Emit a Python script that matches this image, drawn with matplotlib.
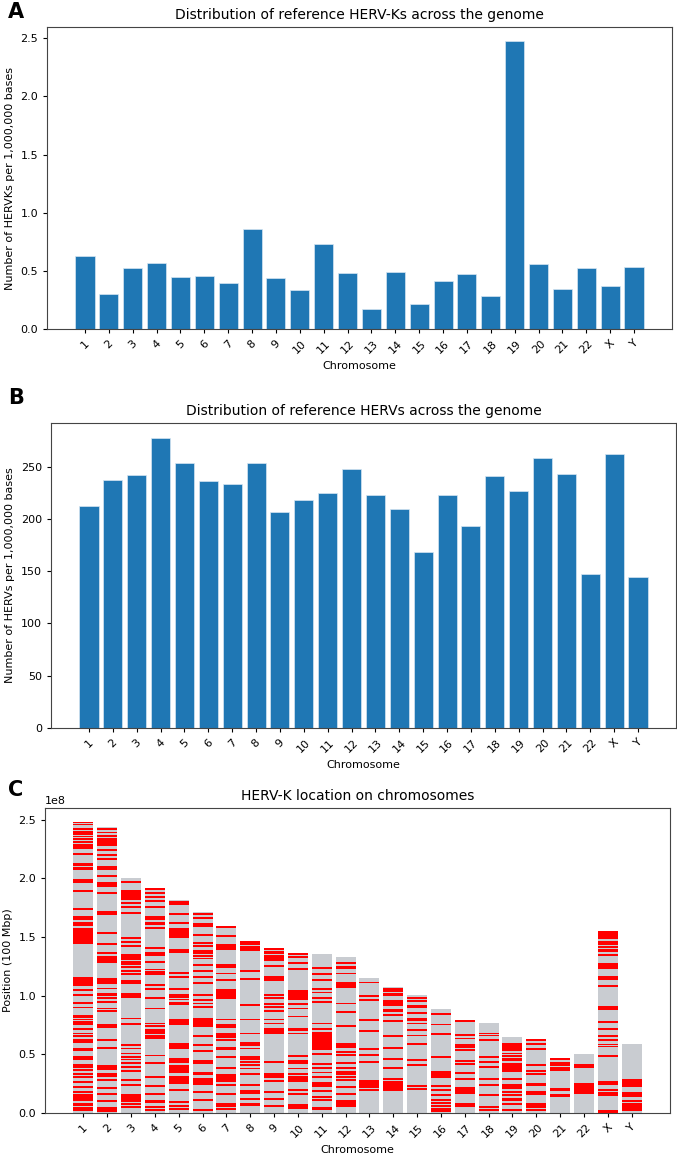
import numpy as np
import matplotlib
matplotlib.use("Agg")
import matplotlib.pyplot as plt

chromosomes = [str(i) for i in range(1, 23)] + ["X", "Y"]

# HERV-K per 1,000,000 bases (panel A)
hervk_density = [0.629, 0.303, 0.529, 0.566, 0.446, 0.454, 0.397, 0.863, 0.437, 0.334,
                 0.729, 0.483, 0.169, 0.489, 0.214, 0.417, 0.471, 0.280, 2.474, 0.563,
                 0.340, 0.526, 0.371, 0.537]

# all HERVs per 1,000,000 bases (panel B)
herv_density = [212.3, 237.2, 241.7, 277.8, 253.8, 236.0, 233.7, 253.8, 206.9, 218.4,
                225.1, 247.4, 223.2, 209.8, 168.6, 223.2, 192.8, 240.7, 226.7, 258.0,
                242.7, 147.2, 262.5, 144.3]

# chromosome lengths in Mbp (panel C)
chrom_length = [247.7, 243.5, 200.2, 192.2, 181.7, 171.1, 159.5, 147.0, 140.4, 136.1,
                135.3, 133.0, 114.7, 107.1, 100.8, 89.1, 79.2, 76.6, 64.4, 62.9,
                47.3, 50.1, 155.2, 58.7]

# HERV-K positions in Mbp, read per chromosome
k_chr1 = [247.7, 246.0, 242.0, 239.8, 238.0, 235.8, 233.5, 231.2, 228.9, 227.8, 226.7, 225.5,
          220.7, 212.4, 211.3, 209.0, 207.9, 198.8, 197.0, 189.1, 174.0, 166.9, 165.7, 161.7,
          160.9, 160.0, 156.9, 155.5, 153.2, 151.8, 150.3, 148.9, 147.5, 146.1, 144.6, 114.8,
          113.3, 111.9, 110.5, 109.1, 104.8, 100.5, 94.0, 90.0, 82.9, 81.4, 79.7, 77.7, 75.7,
          72.0, 67.8, 65.5, 62.1, 60.7, 55.0, 53.5, 47.8, 46.4, 40.7, 39.3, 37.0, 33.6, 30.8,
          26.5, 22.2, 17.9, 15.1, 13.7, 12.2, 10.8, 8.0, 6.5, 4.3, 2.3]
k_chr2 = [242.0, 239.2, 236.3, 233.5, 232.4, 231.2, 230.1, 228.9, 224.4, 220.1, 216.4, 209.6,
          208.4, 202.4, 195.9, 194.8, 193.6, 187.9, 171.4, 170.0, 153.8, 143.8, 136.1, 133.3,
          131.8, 130.4, 129.0, 113.9, 112.5, 111.0, 106.2, 101.4, 100.2, 97.7, 94.8, 89.1,
          87.1, 75.2, 73.5, 62.1, 55.8, 39.9, 38.7, 37.6, 33.0, 31.3, 28.5, 21.6, 16.5, 10.3,
          4.3, 2.8, 1.4]
k_chr3 = [196.8, 189.3, 187.4, 185.9, 183.9, 182.2, 178.8, 176.0, 170.8, 148.9, 146.1, 142.4,
          134.7, 133.3, 131.0, 129.0, 127.0, 124.7, 121.3, 118.5, 112.8, 111.0, 101.4, 100.2,
          99.1, 80.6, 75.7, 57.8, 55.0, 50.7, 47.8, 45.6, 43.0, 39.3, 35.9, 27.9, 23.6, 15.1,
          13.7, 12.2, 10.3, 8.0, 5.1]
k_chr4 = [191.1, 187.4, 184.5, 181.1, 176.0, 166.9, 165.4, 162.3, 160.9, 157.5, 140.4, 136.7,
          134.7, 129.0, 122.4, 120.5, 118.5, 109.1, 105.4, 97.7, 89.1, 76.3, 74.0, 70.6, 69.2,
          67.8, 65.5, 64.1, 49.0, 43.0, 30.8, 22.8, 16.5, 10.3, 9.1, 5.1, 2.8]
k_chr5 = [180.0, 178.3, 169.7, 161.7, 157.2, 155.5, 153.8, 151.8, 149.8, 139.0, 137.5, 119.6,
          116.2, 105.4, 100.5, 99.1, 96.8, 94.0, 92.8, 79.2, 77.4, 76.0, 58.7, 56.9, 55.2,
          46.1, 44.7, 43.3, 39.9, 38.7, 37.0, 35.0, 30.8, 29.0, 27.3, 25.6, 19.4, 9.4, 5.7, 3.7]
k_chr6 = [169.7, 166.0, 160.9, 159.5, 151.8, 144.6, 142.4, 138.4, 136.1, 133.8, 131.8, 126.1,
          121.3, 116.2, 111.0, 100.5, 96.3, 93.4, 90.6, 80.6, 79.2, 77.7, 75.7, 74.0, 65.5,
          57.8, 53.0, 44.4, 43.0, 34.5, 33.3, 28.8, 27.3, 25.9, 24.5, 17.9, 10.8, 2.8]
k_chr7 = [158.3, 150.9, 143.2, 141.8, 140.1, 125.9, 124.4, 119.0, 113.3, 104.8, 103.4, 101.9,
          100.5, 99.1, 97.7, 79.7, 74.9, 73.5, 67.5, 66.1, 64.6, 62.1, 55.8, 54.7, 47.8, 38.7,
          32.2, 30.8, 29.3, 27.3, 23.6, 16.5, 8.0, 5.7, 3.7]
k_chr8 = [145.8, 144.4, 141.8, 140.4, 139.0, 121.3, 114.2, 92.0, 79.7, 67.8, 59.8, 57.8, 55.0,
          47.6, 46.4, 43.6, 40.7, 37.9, 33.6, 23.6, 18.5, 17.1, 12.2, 8.0, 6.8]
k_chr9 = [139.5, 137.5, 136.1, 134.1, 132.4, 130.4, 125.3, 116.2, 114.8, 113.3, 100.5, 98.2,
          92.8, 90.6, 87.1, 79.7, 76.3, 72.0, 70.6, 69.2, 67.8, 43.6, 33.6, 32.2, 30.8, 27.3,
          17.9, 12.0, 5.7]
k_chr10 = [135.5, 132.7, 127.6, 123.0, 104.2, 102.8, 101.4, 99.9, 98.5, 97.1, 92.8, 89.1, 82.3,
           72.0, 70.6, 67.8, 48.4, 44.1, 43.0, 37.9, 33.6, 30.8, 29.3, 27.3, 19.9, 16.5, 7.1,
           5.7, 4.3]
k_chr11 = [123.3, 118.4, 113.3, 105.4, 102.8, 97.7, 94.8, 76.3, 72.0, 68.0, 66.5, 65.0, 63.5,
           62.0, 60.5, 59.0, 57.5, 56.0, 54.4, 50.1, 42.1, 38.7, 34.5, 30.8, 25.6, 24.2, 22.8,
           18.8, 13.7, 10.8, 4.6, 3.1]
k_chr12 = [127.6, 124.7, 123.3, 119.0, 111.0, 109.9, 108.2, 107.1, 93.4, 86.3, 74.0, 59.2,
           57.8, 56.4, 52.1, 49.3, 42.7, 38.7, 35.0, 33.0, 30.8, 28.5, 22.2, 16.5, 10.3, 8.8,
           7.4, 6.0]
k_chr13 = [111.3, 99.9, 96.2, 79.2, 70.0, 54.7, 49.8, 43.6, 27.3, 25.6, 23.9, 22.2, 19.9]
k_chr14 = [105.6, 103.9, 101.9, 100.5, 95.7, 94.0, 92.0, 88.3, 86.8, 83.4, 78.6, 65.5, 55.5,
           45.8, 38.7, 29.3, 26.5, 24.5, 22.8, 21.1, 19.6]
k_chr15 = [97.7, 95.7, 91.1, 90.0, 85.4, 80.6, 79.2, 76.3, 70.6, 66.1, 59.2, 45.0, 40.7, 22.8,
           20.5]
k_chr16 = [84.3, 75.5, 67.2, 47.8, 35.0, 33.6, 32.2, 30.8, 22.8, 19.9, 15.1, 10.8, 8.5, 5.7,
           3.1, 1.7]
k_chr17 = [78.3, 66.3, 63.5, 57.8, 56.4, 53.5, 44.4, 41.6, 34.2, 29.3, 21.4, 19.9, 18.5, 17.1,
           7.7, 6.3]
k_chr18 = [67.8, 66.1, 62.1, 47.8, 43.6, 39.3, 29.3, 24.2, 15.1, 5.1, 2.8]
k_chr19 = [59.2, 57.8, 56.4, 55.0, 53.5, 50.7, 48.4, 46.4, 45.0, 41.6, 40.1, 38.7, 37.3, 35.9,
           29.3, 24.2, 22.8, 21.4, 17.9, 15.1, 12.2, 10.8, 8.0, 2.3]
k_chr20 = [62.1, 58.7, 54.7, 40.7, 35.9, 33.6, 25.1, 23.6, 17.9, 15.9, 8.0, 6.5, 5.1, 2.8]
k_chr21 = [45.8, 43.0, 40.7, 38.4, 36.4, 20.5, 19.4, 15.7, 14.5]
k_chr22 = [40.7, 39.3, 24.5, 23.1, 21.6, 20.2, 18.8, 17.4]
k_chrX = [154.6, 152.6, 150.9, 148.9, 146.1, 144.1, 141.8, 139.2, 137.8, 134.7, 126.7, 125.3,
          123.9, 116.2, 113.9, 108.2, 90.3, 88.6, 77.7, 71.8, 65.8, 62.6, 58.4, 56.7, 48.4,
          26.5, 24.5, 19.4, 17.4, 15.1, 2.0, 0.6]
k_chrY = [27.9, 26.5, 25.1, 22.8, 17.4, 15.9, 14.5, 10.0, 8.0, 6.5, 5.1, 3.7, 2.3]

k_positions = [k_chr1, k_chr2, k_chr3, k_chr4, k_chr5, k_chr6, k_chr7, k_chr8, k_chr9,
               k_chr10, k_chr11, k_chr12, k_chr13, k_chr14, k_chr15, k_chr16, k_chr17,
               k_chr18, k_chr19, k_chr20, k_chr21, k_chr22, k_chrX, k_chrY]

plt.rcParams['font.family'] = 'DejaVu Sans'
plt.rcParams['font.size'] = 8

W, H = 677, 1154
fig = plt.figure(figsize=(W / 100, H / 100), dpi=100)

def frac(left, top, right, bottom):
    return [left / W, 1 - bottom / H, (right - left) / W, (bottom - top) / H]

ax_a = fig.add_axes(frac(47, 27, 672, 329))
ax_b = fig.add_axes(frac(51, 423, 676, 728))
ax_c = fig.add_axes(frac(45, 808, 670, 1113))

x = np.arange(len(chromosomes))
blue = '#1f77b4'

# Panel A
ax_a.bar(x, hervk_density, width=0.8, color=blue, edgecolor='#d6e6f2', linewidth=0.5)
ax_a.set_title('Distribution of reference HERV-Ks across the genome', fontsize=10)
ax_a.set_ylabel('Number of HERVKs per 1,000,000 bases', fontsize=8)
ax_a.set_xlabel('Chromosome', fontsize=8)

# Panel B
ax_b.bar(x, herv_density, width=0.8, color=blue, edgecolor='#d6e6f2', linewidth=0.5)
ax_b.set_title('Distribution of reference HERVs across the genome', fontsize=10)
ax_b.set_ylabel('Number of HERVs per 1,000,000 bases', fontsize=8)
ax_b.set_xlabel('Chromosome', fontsize=8)

# Panel C: grey chromosome bars with a thin red band per HERV-K
lengths_bp = np.array(chrom_length) * 1e6
ax_c.bar(x, lengths_bp, width=0.84, color='#c9ccd1')
band = 1.6e6
for i, pos in enumerate(k_positions):
    pos = np.array(pos) * 1e6
    ax_c.bar(np.full(len(pos), i), band, bottom=pos - band / 2, width=0.84,
             color='#ff0000', linewidth=0, zorder=3)
ax_c.set_title('HERV-K location on chromosomes', fontsize=10)
ax_c.set_ylabel('Position (100 Mbp)', fontsize=8)
ax_c.set_xlabel('Chromosome', fontsize=8)
ax_c.set_ylim(0, lengths_bp.max() * 1.05)

for ax in (ax_a, ax_b, ax_c):
    ax.set_xticks(x)
    ax.set_xticklabels(chromosomes, rotation=45)
    ax.tick_params(labelsize=8, length=3)
    for s in ax.spines.values():
        s.set_color('#444444')
        s.set_linewidth(0.8)

for label, y in (('A', 12), ('B', 398), ('C', 790)):
    fig.text(8 / W, 1 - y / H, label, fontsize=15, fontweight='bold', va='center', ha='left')

fig.savefig('out.png', dpi=100)
